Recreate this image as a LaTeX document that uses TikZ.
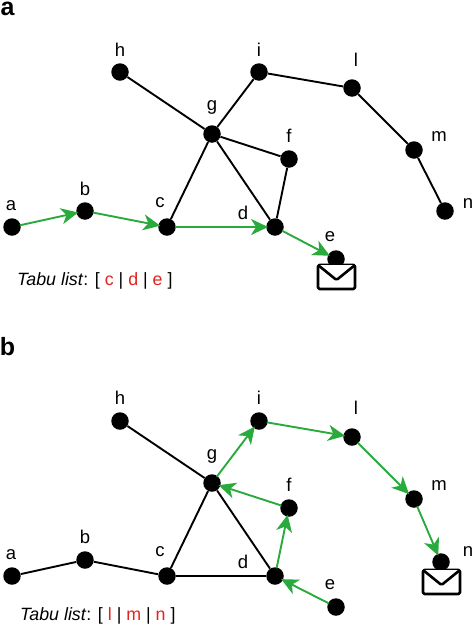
\documentclass[tikz,border=0pt]{standalone}
\usepackage{fontspec}
\setmainfont{Liberation Sans}
\usetikzlibrary{arrows.meta}
\definecolor{edgegreen}{RGB}{40,170,60}
\definecolor{tabured}{RGB}{225,35,30}
\tikzset{
  x=1pt,y=-1pt,
  vertex/.style={circle,fill=black,inner sep=0pt,minimum size=17.5pt},
  lbl/.style={inner sep=0pt,font=\fontsize{18.5}{19}\selectfont},
  panel/.style={inner sep=0pt,font=\fontsize{25}{25}\bfseries\selectfont},
  tabu/.style={inner sep=0pt,anchor=west,font=\fontsize{17.8}{18}\selectfont},
  plain edge/.style={draw=black,line width=1.9pt},
  walk/.style={draw=edgegreen,line width=1.9pt,-{Stealth[length=17pt,width=16pt,inset=5pt]},shorten <=-1pt,shorten >=-2pt},
  envelope/.style={draw=black,line width=2.6pt,rounded corners=1.5pt,fill=white,line join=round}
}
\newcommand{\hl}[1]{\textcolor{tabured}{#1}}
\begin{document}
\begin{tikzpicture}
\useasboundingbox (0,0) rectangle (474,627);
% panel a
\node[panel] (pa) at (7.5,9) {a};
\foreach \n/\x/\y in {a/12/227,b/85/211,c/167/227,d/275/227,e/336/259,f/289/159,g/212/134,h/120/72,i/259/72,l/352/88,m/414/150,n/445/211}
  \node[vertex] (A\n) at (\x,\y) {};
\foreach \n/\x/\y in {a/11/206,b/85/189,c/160/203,d/243/213,e/330/237,f/289/136,g/212/107,h/120/50,i/259/50,l/356/60,m/439/137,n/468/204}
  \node[lbl] (LA\n) at (\x,\y) {\n};
\foreach \s/\t in {h/g,g/i,i/l,l/m,m/n,g/f,f/d,g/d,g/c}
  \path[plain edge] (A\s) -- (A\t);
\foreach \s/\t in {a/b,b/c,c/d,d/e}
  \path[walk] (A\s) -- (A\t);
\path[envelope] (318,265) rectangle (355,289);
\path[envelope] (318,265) -- (336.5,280) -- (355,265);
\node[tabu] (TA) at (17,281) {\textit{Tabu list}: [ \hl{c} | \hl{d} | \hl{e} ]};
% panel b
\node[panel] (pb) at (7.5,346.5) {b};
\foreach \n/\x/\y in {a/12/576,b/85/560,c/167/576,d/275/576,e/336/607,f/289/508,g/212/483,h/120/421,i/259/421,l/352/437,m/414/499,n/441/562}
  \node[vertex] (B\n) at (\x,\y) {};
\foreach \n/\x/\y in {a/11/555,b/85/537,c/160/552,d/243/562,e/330/585,f/289/485,g/212/456,h/120/398,i/259/398,l/356/408,m/439/486,n/468/552}
  \node[lbl] (LB\n) at (\x,\y) {\n};
\foreach \s/\t in {a/b,b/c,c/d,c/g,g/d,h/g}
  \path[plain edge] (B\s) -- (B\t);
\foreach \s/\t in {e/d,d/f,f/g,g/i,i/l,l/m,m/n}
  \path[walk] (B\s) -- (B\t);
\path[envelope] (423,570) rectangle (460,594);
\path[envelope] (423,570) -- (441.5,585) -- (460,570);
\node[tabu] (TB) at (20,616) {\textit{Tabu list}: [ \hl{l} | \hl{m} | \hl{n} ]};
\end{tikzpicture}
\end{document}
